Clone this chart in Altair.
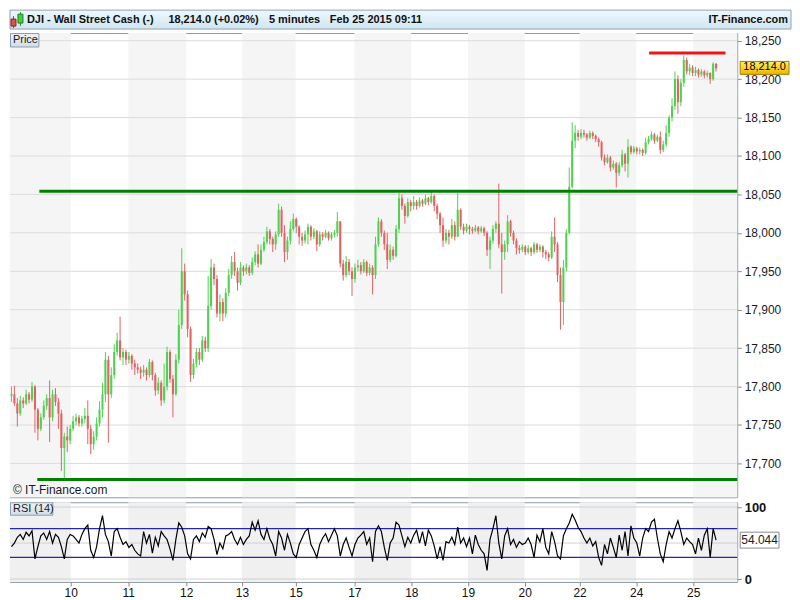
import altair as alt
import pandas as pd

# ---------------- data ----------------
day_labels = ["10", "11", "12", "13", "15", "17", "18", "19", "20", "22", "24", "25"]
day_breaks = [20.7, 40.3, 60.0, 79.0, 97.3, 117.3, 136.7, 156.0, 175.3, 194.0, 213.3, 232.7]
x_end = 247.7

price_ticks = [17700, 17750, 17800, 17850, 17900, 17950, 18000, 18050, 18100, 18150, 18200, 18250]
price_domain = [17656, 18260]
rsi_domain = [-4, 106.7]
rsi_ticks = [0, 100]
rsi_grid = [0, 50, 100]
rsi_bounds = [30, 70]

level_price = [18054, 17679, 18234]
level_start = [10.0, 9.3, 217.7]
level_end = [247.7, 247.7, 243.7]
level_color = ["#007f00", "#007f00", "#ee1515"]

first_open = 17788
closes = [
    17790, 17778, 17765, 17782, 17778, 17790, 17783, 17800, 17770, 17745,
    17760, 17775, 17785, 17760, 17790, 17780, 17765, 17720, 17735, 17730,
    17745, 17755, 17760, 17752, 17758, 17762, 17745, 17725, 17735, 17752,
    17770, 17790, 17835, 17790, 17815, 17845, 17860, 17838, 17845, 17835,
    17840, 17830, 17825, 17822, 17818, 17822, 17815, 17832, 17815, 17795,
    17805, 17782, 17800, 17845, 17810, 17790, 17835, 17880, 17950, 17920,
    17875, 17815, 17830, 17845, 17835, 17860, 17850, 17905, 17955, 17940,
    17895, 17910, 17895, 17922, 17945, 17962, 17950, 17935, 17955, 17950,
    17955, 17948, 17962, 17972, 17960, 17978, 17988, 18002, 17992, 17985,
    17998, 18030, 18000, 17975, 17990, 18005, 18018, 18008, 17995, 17990,
    17998, 18008, 17995, 18002, 17985, 17998, 17995, 18000, 17993, 17998,
    18000, 18015, 17960, 17945, 17962, 17950, 17940, 17955, 17958, 17950,
    17962, 17948, 17955, 17945, 17985, 18015, 18000, 17985, 17965, 17978,
    17970, 18005, 18045, 18035, 18022, 18040, 18035, 18040, 18035, 18042,
    18038, 18045, 18040, 18048, 18035, 18025, 18010, 17990, 18000, 17995,
    18010, 17995, 18030, 18008, 18003, 18008, 18005, 18003, 18007, 18002,
    18006, 18000, 17978, 17990, 18005, 18012, 17985, 17975, 17985, 18015,
    18000, 17990, 17980, 17978, 17982, 17975, 17980, 17975, 17985, 17978,
    17982, 17975, 17972, 17968, 17995, 17985, 17945, 17910, 17955, 18000,
    18060, 18120, 18130, 18125, 18130, 18128, 18124, 18130, 18126, 18122,
    18118, 18098, 18092, 18098, 18085, 18090, 18078, 18088, 18102, 18090,
    18112, 18105, 18110, 18106, 18108, 18104, 18118, 18122, 18128, 18120,
    18125, 18108, 18115, 18130, 18150, 18165, 18200, 18170, 18195, 18225,
    18210, 18215, 18208, 18212, 18206, 18210, 18205, 18208, 18200, 18220,
    18214,
]
highs = [
    17800, 17801, 17785, 17788, 17786, 17796, 17793, 17806, 17802, 17772,
    17765, 17782, 17790, 17808, 17796, 17798, 17785, 17770, 17740, 17748,
    17750, 17762, 17765, 17763, 17762, 17772, 17782, 17750, 17742, 17760,
    17781, 17805, 17845, 17840, 17825, 17855, 17870, 17891, 17850, 17848,
    17845, 17842, 17835, 17830, 17826, 17828, 17825, 17836, 17834, 17818,
    17812, 17808, 17830, 17852, 17848, 17815, 17842, 17900, 17980, 17960,
    17925, 17878, 17836, 17850, 17850, 17866, 17865, 17944, 17966, 17960,
    17945, 17920, 17915, 17928, 17953, 17970, 17975, 17955, 17962, 17958,
    17960, 17958, 17968, 17976, 17985, 17985, 17995, 18008, 18005, 17995,
    18002, 18038, 18034, 18010, 17995, 18015, 18025, 18020, 18010, 18000,
    18003, 18012, 18010, 18006, 18004, 18002, 18001, 18004, 18002, 18001,
    18004, 18027, 18015, 17965, 17970, 17966, 17955, 17960, 17965, 17962,
    17966, 17964, 17960, 17958, 17995, 18020, 18018, 18003, 18000, 17985,
    17982, 18010, 18052, 18050, 18038, 18045, 18043, 18048, 18043, 18046,
    18044, 18050, 18047, 18053, 18050, 18038, 18027, 18020, 18005, 18004,
    18018, 18015, 18052, 18032, 18012, 18012, 18010, 18008, 18010, 18009,
    18009, 18008, 18002, 17995, 18010, 18015, 18064, 18000, 17990, 18023,
    18017, 18003, 17993, 17984, 17985, 17984, 17984, 17982, 17988, 17987,
    17985, 17984, 17978, 17975, 18002, 18020, 17988, 17955, 17965, 18005,
    18085, 18144, 18140, 18134, 18135, 18134, 18130, 18133, 18132, 18128,
    18124, 18120, 18102, 18102, 18100, 18094, 18092, 18092, 18108, 18104,
    18122, 18114, 18113, 18112, 18111, 18110, 18124, 18126, 18132, 18130,
    18128, 18132, 18120, 18140, 18153, 18175, 18210, 18205, 18200, 18231,
    18228, 18220, 18218, 18216, 18214, 18213, 18212, 18211, 18209, 18222,
    18221,
]
lows = [
    17780, 17775, 17748, 17762, 17772, 17776, 17778, 17780, 17740, 17730,
    17742, 17757, 17770, 17728, 17755, 17775, 17745, 17690, 17681, 17715,
    17725, 17742, 17750, 17748, 17748, 17752, 17725, 17712, 17718, 17730,
    17748, 17760, 17780, 17727, 17785, 17810, 17840, 17834, 17828, 17828,
    17830, 17822, 17815, 17817, 17810, 17813, 17808, 17812, 17808, 17788,
    17790, 17775, 17778, 17795, 17805, 17760, 17788, 17830, 17875, 17912,
    17864, 17806, 17810, 17825, 17828, 17832, 17845, 17845, 17900, 17932,
    17890, 17885, 17885, 17890, 17918, 17940, 17944, 17925, 17932, 17944,
    17946, 17944, 17945, 17958, 17955, 17958, 17975, 17985, 17985, 17975,
    17978, 17995, 17995, 17962, 17965, 17985, 18002, 18000, 17985, 17983,
    17986, 17985, 17990, 17992, 17976, 17982, 17990, 17993, 17990, 17990,
    17994, 17995, 17955, 17938, 17942, 17945, 17918, 17935, 17950, 17946,
    17948, 17944, 17945, 17920, 17940, 17982, 17995, 17978, 17953, 17962,
    17965, 17968, 18000, 18030, 18012, 18020, 18028, 18030, 18030, 18033,
    18034, 18036, 18036, 18038, 18028, 18018, 18000, 17982, 17986, 17985,
    17992, 17990, 17995, 18004, 17998, 18000, 17998, 17999, 18001, 17998,
    18000, 17996, 17970, 17953, 17986, 18000, 17980, 17921, 17965, 17975,
    17995, 17985, 17972, 17973, 17975, 17971, 17972, 17970, 17972, 17974,
    17975, 17968, 17966, 17963, 17966, 17975, 17936, 17874, 17880, 17950,
    17998, 18058, 18110, 18120, 18122, 18124, 18120, 18122, 18122, 18118,
    18112, 18094, 18088, 18090, 18080, 18082, 18059, 18074, 18085, 18080,
    18072, 18102, 18103, 18102, 18102, 18100, 18102, 18115, 18120, 18116,
    18118, 18103, 18105, 18112, 18125, 18145, 18160, 18155, 18165, 18190,
    18206, 18205, 18204, 18204, 18202, 18203, 18201, 18202, 18194, 18198,
    18210,
]
rsi_values = [
    45, 50, 58, 62, 55, 65, 60, 67, 28, 45, 60, 64, 55, 66, 50, 62, 58, 45, 28, 55, 62,
    60, 55, 50, 62, 70, 75, 40, 30, 45, 70, 88, 62, 52, 32, 66, 70, 58, 48, 52, 44,
    48, 40, 35, 32, 66, 50, 62, 36, 58, 46, 66, 60, 55, 42, 26, 55, 78, 72, 60, 35,
    28, 55, 60, 52, 64, 58, 73, 70, 55, 34, 50, 42, 60, 62, 66, 55, 48, 58,
    48, 55, 60, 79, 68, 81, 62, 55, 70, 56, 48, 32, 66, 57, 40, 62, 50, 35, 30,
    48, 57, 66, 70, 48, 40, 30, 48, 57, 63, 52, 61, 70, 60, 32, 48, 57, 44, 32, 48,
    57, 61, 66, 48, 57, 24, 66, 74, 66, 44, 26, 50, 57, 79, 75, 60, 45, 58, 50,
    61, 68, 50, 66, 46, 68, 60, 46, 28, 45, 26, 52, 50, 58, 48, 72, 50, 57, 45,
    57, 35, 61, 48, 40, 35, 12, 55, 70, 88, 50, 28, 60, 70, 48, 55, 44, 52, 48, 50,
    57, 48, 30, 61, 52, 70, 44, 35, 66, 52, 32, 28, 60, 70, 78, 90, 82, 72, 66,
    57, 50, 57, 46, 52, 30, 19, 48, 35, 57, 44, 30, 61, 40, 66, 32, 74, 57, 50,
    32, 57, 70, 66, 79, 83, 57, 35, 24, 48, 66, 57, 70, 81, 66, 48, 57, 52, 48,
    35, 57, 40, 61, 70, 30, 70, 54,
]
last_price_text = "18,214.0"
last_rsi = 54.044
last_rsi_text = "54.044"

# ---------------- layout / style ----------------
W = 730
H_MAIN = 466
H_RSI = 80
H_HEAD = 19
FULL_W = 784
FONT = "Liberation Sans"
GREEN = "#4fd24f"
RED = "#e26262"

n = len(closes)
opens = [first_open] + closes[:-1]
candles = pd.DataFrame({
    "i": list(range(n)), "open": opens, "close": closes,
    "high": highs[:n], "low": lows[:n], "rsi": rsi_values[:n],
})
candles["xc"] = candles["i"] + 0.5
candles["x0"] = candles["i"] + 0.15
candles["x1"] = candles["i"] + 0.85
candles["dir"] = ["up" if c >= o else "down" for o, c in zip(candles["open"], candles["close"])]

edges = [0.0] + day_breaks + [x_end]
bands = pd.DataFrame({"x0": edges[:-1], "x1": edges[1:]})
bands = bands[[k % 2 == 0 for k in range(len(bands))]]

levels = pd.DataFrame({"p": level_price, "x0": level_start, "x1": level_end, "c": level_color})
dummy = pd.DataFrame({"d": [0]})

xs = alt.Scale(domain=[0, x_end], nice=False, zero=False)
ys = alt.Scale(domain=price_domain, nice=False, zero=False)
rs = alt.Scale(domain=rsi_domain, nice=False, zero=False)
dir_color = alt.Color("dir:N", scale=alt.Scale(domain=["up", "down"], range=[GREEN, RED]), legend=None)

price_axis = alt.Axis(orient="right", values=price_ticks, labelExpr="format(datum.value, ',')",
                      grid=False, domain=False,
                      tickSize=4, tickColor="#8a8a8a", labelFontSize=12, labelColor="#1a1a2a",
                      labelFont=FONT, labelPadding=3, title=None)

label_expr = " : ".join(f"abs(datum.value - {b}) < 0.05 ? '{l}'" for b, l in zip(day_breaks, day_labels)) + " : ''"
x_axis = alt.Axis(values=day_breaks, labelExpr=label_expr, grid=False, domain=False, tickSize=4,
                  tickColor="#8a8a8a", labelFontSize=12, labelColor="#111", labelFont=FONT,
                  labelPadding=2, title=None, labelFlush=False)
rsi_axis = alt.Axis(orient="right", values=rsi_ticks, labelExpr="format(datum.value, 'd')",
                    grid=False, domain=False, tickSize=4,
                    tickColor="#8a8a8a", labelFontSize=13, labelFontWeight="bold", labelColor="#111",
                    labelFont=FONT, labelPadding=3, title=None)

tag_fill = alt.LinearGradient(gradient="linear", x1=0, x2=0, y1=0, y2=1,
                              stops=[alt.GradientStop(color="#eef3f7", offset=0),
                                     alt.GradientStop(color="#d3dde6", offset=1)])


def tag(text, w, h):
    box = alt.Chart(dummy).mark_rect(fill=tag_fill, stroke="#8c9dac", strokeWidth=1).encode(
        x=alt.value(0.5), x2=alt.value(w), y=alt.value(0.5), y2=alt.value(h))
    txt = alt.Chart(dummy).mark_text(text=text, align="left", baseline="middle", font=FONT,
                                     fontSize=11, color="#1a1a1a").encode(
        x=alt.value(3), y=alt.value(h / 2 + 0.5))
    return [box, txt]


# ---------------- header ----------------
head_fill = alt.LinearGradient(gradient="linear", x1=0, x2=0, y1=0, y2=1,
                               stops=[alt.GradientStop(color="#eef8fd", offset=0),
                                      alt.GradientStop(color="#cfe6f1", offset=1)])
head_bg = alt.Chart(dummy).mark_rect(fill=head_fill, stroke="#8fa3b1", strokeWidth=1).encode(
    x=alt.value(0), x2=alt.value(FULL_W), y=alt.value(0), y2=alt.value(H_HEAD))


def htext(t, x, align="left"):
    return alt.Chart(dummy).mark_text(text=t, align=align, baseline="middle", font=FONT, fontSize=11,
                                      fontWeight="bold", color="#101010").encode(
        x=alt.value(x), y=alt.value(10))


icon = [
    alt.Chart(dummy).mark_rule(color="#c03030").encode(x=alt.value(3.5), y=alt.value(6), y2=alt.value(18)),
    alt.Chart(dummy).mark_rect(fill="#e05050", stroke="#902020").encode(
        x=alt.value(1), x2=alt.value(6), y=alt.value(9), y2=alt.value(16)),
    alt.Chart(dummy).mark_rule(color="#20a020").encode(x=alt.value(10.5), y=alt.value(2), y2=alt.value(16)),
    alt.Chart(dummy).mark_rect(fill="#40d040", stroke="#208020").encode(
        x=alt.value(8), x2=alt.value(13), y=alt.value(4), y2=alt.value(13)),
]

header = alt.layer(
    head_bg, *icon,
    htext("DJI - Wall Street Cash (-)", 17),
    htext("18,214.0 (+0.02%)", 159),
    htext("5 minutes", 260),
    htext("Feb 25 2015 09:11", 321),
    htext("IT-Finance.com", FULL_W - 3, "right"),
).properties(width=FULL_W, height=H_HEAD, view=alt.ViewBackground(stroke="transparent"))

# ---------------- main price panel ----------------
m_bands = alt.Chart(bands).mark_rect(color="#f5f5f5").encode(
    x=alt.X("x0:Q", scale=xs, axis=None), x2="x1:Q")
m_grid = alt.Chart(pd.DataFrame({"p": price_ticks})).mark_rule(color="#dcdcdc", strokeWidth=1).encode(
    y=alt.Y("p:Q", scale=ys, axis=price_axis))
wicks = alt.Chart(candles).mark_rule(strokeWidth=1).encode(
    x=alt.X("xc:Q", scale=xs, axis=None),
    y=alt.Y("low:Q", scale=ys, axis=price_axis), y2="high:Q", color=dir_color)
bodies = alt.Chart(candles).mark_rect().encode(
    x=alt.X("x0:Q", scale=xs, axis=None), x2="x1:Q",
    y=alt.Y("open:Q", scale=ys, axis=price_axis), y2="close:Q", color=dir_color)
lev = alt.Chart(levels).mark_rule(strokeWidth=3).encode(
    x=alt.X("x0:Q", scale=xs, axis=None), x2="x1:Q",
    y=alt.Y("p:Q", scale=ys, axis=price_axis), color=alt.Color("c:N", scale=None))

last_df = pd.DataFrame({"p": [closes[-1]]})
gold = alt.LinearGradient(gradient="linear", x1=0, x2=0, y1=0, y2=1,
                          stops=[alt.GradientStop(color="#fff05a", offset=0),
                                 alt.GradientStop(color="#f0b400", offset=1)])
p_box = alt.Chart(last_df).mark_rect(fill=gold, stroke="#a07a00", strokeWidth=1,
                                     yOffset=-7, y2Offset=6).encode(
    x=alt.value(W + 3), x2=alt.value(W + 52),
    y=alt.Y("p:Q", scale=ys, axis=price_axis), y2="p:Q")
p_txt = alt.Chart(last_df).mark_text(text=last_price_text, align="center", baseline="middle",
                                     font=FONT, fontSize=11, color="#000", dy=-1).encode(
    x=alt.value(W + 27.5), y=alt.Y("p:Q", scale=ys, axis=price_axis))
wm = alt.Chart(dummy).mark_text(text="© IT-Finance.com", align="left", baseline="middle", font=FONT,
                                fontSize=12, color="#1a1a1a").encode(
    x=alt.value(3), y=alt.value(H_MAIN - 7))

main = alt.layer(m_bands, m_grid, wicks, bodies, lev, p_box, p_txt, wm,
                 *tag("Price", 29, 14)).properties(width=W, height=H_MAIN)

# ---------------- RSI panel ----------------
r_bands = alt.Chart(bands).mark_rect(color="#f0f0f0").encode(
    x=alt.X("x0:Q", scale=xs, axis=x_axis), x2="x1:Q")
r_grid = alt.Chart(pd.DataFrame({"r": rsi_grid})).mark_rule(color="#d2d2d2", strokeWidth=1).encode(
    y=alt.Y("r:Q", scale=rs, axis=rsi_axis))
r_bound = alt.Chart(pd.DataFrame({"r": rsi_bounds})).mark_rule(color="#2626a6", strokeWidth=1.2).encode(
    y=alt.Y("r:Q", scale=rs, axis=rsi_axis))
r_line = alt.Chart(candles).mark_line(color="#000000", strokeWidth=1.2).encode(
    x=alt.X("xc:Q", scale=xs, axis=x_axis),
    y=alt.Y("rsi:Q", scale=rs, axis=rsi_axis))
rl_df = pd.DataFrame({"r": [last_rsi]})
r_box = alt.Chart(rl_df).mark_rect(fill="#ffffff", stroke="#8a8a8a", strokeWidth=1,
                                   yOffset=-8, y2Offset=8).encode(
    x=alt.value(W + 3), x2=alt.value(W + 42),
    y=alt.Y("r:Q", scale=rs, axis=rsi_axis), y2="r:Q")
r_txt = alt.Chart(rl_df).mark_text(text=last_rsi_text, align="center", baseline="middle", font=FONT,
                                   fontSize=12, color="#222").encode(
    x=alt.value(W + 22.5), y=alt.Y("r:Q", scale=rs, axis=rsi_axis))

rsi_panel = alt.layer(r_bands, r_grid, r_bound, r_line, r_box, r_txt,
                      *tag("RSI (14)", 43, 13)).properties(width=W, height=H_RSI)

chart = alt.vconcat(header, main, rsi_panel, spacing=2).resolve_scale(
    x="independent", y="independent", color="independent"
).properties(padding=0, background="#ffffff").configure_view(stroke="#8d9aa6")

chart.save("out.html", embed_options={"renderer": "svg", "actions": False})
